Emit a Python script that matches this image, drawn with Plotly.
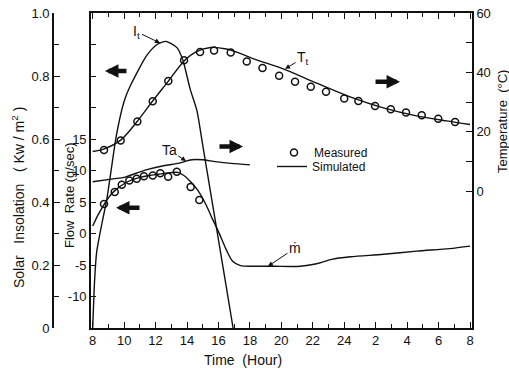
import plotly.graph_objects as go

# ---------------- data ----------------
# Solar insolation I_t (kW/m^2) vs time (hour)
it_time = [8.0, 8.12, 8.25, 8.5, 8.9, 9.2, 9.5, 10.0, 10.4, 11.45, 12.1, 12.66, 13.36, 13.74, 14.19, 14.63, 15.0, 15.5, 16.0, 16.5, 16.93]
it_val = [0.0, 0.15, 0.24, 0.31, 0.41, 0.51, 0.61, 0.72, 0.77, 0.866, 0.90, 0.91, 0.89, 0.85, 0.76, 0.69, 0.58, 0.43, 0.28, 0.13, 0.0]

# Tank temperature T_t (deg C), simulated
tt_sim_time = [8.0, 8.7, 9.8, 10.8, 11.8, 12.8, 13.8, 14.6, 15.5, 16.5, 17.3, 18.0, 19.0, 20.12, 22.25, 24.37, 26.49, 28.6, 30.5, 32.0]
tt_sim_val = [13.4, 14.2, 17.3, 23.3, 30.3, 37.0, 43.8, 47.0, 48.4, 47.9, 46.6, 45.1, 43.2, 41.2, 36.4, 31.8, 28.1, 25.4, 23.7, 22.5]

# Tank temperature T_t (deg C), measured
tt_meas_time = [8.72, 9.78, 10.84, 11.82, 12.81, 13.81, 14.83, 15.72, 16.78, 17.80, 18.80, 19.86, 20.87, 21.87, 22.84, 24.0, 24.9, 25.96, 26.96, 27.93, 28.93, 29.98, 31.05]
tt_meas_val = [13.9, 17.1, 23.5, 30.3, 37.1, 44.1, 46.9, 47.4, 46.7, 43.7, 41.5, 38.9, 36.9, 35.2, 33.5, 31.2, 30.4, 28.7, 27.6, 26.5, 25.6, 24.4, 23.3]

# Ambient temperature Ta (deg C), simulated
ta_time = [8.0, 9.3, 10.0, 10.4, 11.4, 12.5, 13.5, 14.3, 15.0, 15.8, 16.8, 18.0]
ta_val = [3.2, 4.2, 4.7, 5.4, 7.2, 8.6, 9.5, 10.6, 10.6, 10.0, 9.4, 8.9]

# Flow rate m-dot (g/sec), simulated
m_sim_time = [8.0, 8.35, 8.72, 9.1, 9.5, 10.0, 10.5, 11.0, 11.6, 12.2, 12.8, 13.4, 13.8, 14.2, 14.7, 15.2, 15.6, 16.0, 16.5, 16.9, 17.4, 18.2, 19.5, 21.2, 22.25, 23.2, 24.4, 26.5, 28.6, 30.7, 32.0]
m_sim_val = [1.2, 3.0, 4.6, 6.0, 7.0, 7.9, 8.5, 8.9, 9.2, 9.4, 9.6, 9.7, 9.2, 8.3, 6.8, 4.6, 2.4, 0.3, -2.6, -4.4, -5.1, -5.2, -5.2, -5.2, -4.8, -4.1, -3.7, -3.3, -2.8, -2.4, -2.0]

# Flow rate m-dot (g/sec), measured
m_meas_time = [8.72, 9.4, 9.85, 10.33, 10.8, 11.26, 11.82, 12.3, 12.8, 13.35, 14.23, 14.78]
m_meas_val = [4.7, 6.6, 7.75, 8.4, 8.7, 9.1, 9.2, 9.55, 9.0, 9.8, 7.4, 5.3]

# tick labels
x_tickvals = list(range(8, 33, 2))
x_ticktext = ["8", "10", "12", "14", "16", "18", "20", "22", "24", "2", "4", "6", "8"]
x_minorvals = list(range(9, 32, 2))
flow_tickvals = [-15, -10, -5, 0, 5, 10, 15, 20, 25, 30, 35]
flow_ticktext = ["", "-10", "-5", "0", "5", "10", "15", "", "", "", ""]
temp_tickvals = [0, 10, 20, 30, 40, 50, 60]
temp_ticktext = ["0", "", "20", "", "40", "", "60"]
sol_tickvals = [0, 0.2, 0.4, 0.6, 0.8, 1.0]
sol_ticktext = ["0", "0.2", "0.4", "0.6", "0.8", "1.0"]
sol_minorvals = [0.1, 0.3, 0.5, 0.7, 0.9]

# ---------------- figure ----------------
FONT = "Liberation Sans"
BLACK = "#111111"
LW = 1.4

fig = go.Figure()

fig.add_trace(go.Scatter(x=it_time, y=it_val, yaxis="y3", mode="lines",
                         line=dict(color=BLACK, width=LW, shape="spline", smoothing=0.6),
                         showlegend=False, hoverinfo="skip"))
fig.add_trace(go.Scatter(x=tt_meas_time, y=tt_meas_val, yaxis="y2", mode="markers", name="Measured",
                         marker=dict(symbol="circle-open", size=7, color=BLACK, line=dict(width=1.5, color=BLACK)),
                         showlegend=True, legend="legend"))
fig.add_trace(go.Scatter(x=tt_sim_time, y=tt_sim_val, yaxis="y2", mode="lines", name="Simulated",
                         line=dict(color=BLACK, width=LW, shape="spline", smoothing=0.8),
                         showlegend=True, legend="legend2"))
fig.add_trace(go.Scatter(x=ta_time, y=ta_val, yaxis="y2", mode="lines",
                         line=dict(color=BLACK, width=LW, shape="spline", smoothing=0.8),
                         showlegend=False))
fig.add_trace(go.Scatter(x=m_sim_time, y=m_sim_val, yaxis="y", mode="lines",
                         line=dict(color=BLACK, width=LW, shape="spline", smoothing=0.8),
                         showlegend=False))
fig.add_trace(go.Scatter(x=m_meas_time, y=m_meas_val, yaxis="y", mode="markers",
                         marker=dict(symbol="circle-open", size=7, color=BLACK, line=dict(width=1.5, color=BLACK)),
                         showlegend=False))

L, R, T, B = 40, 37, 13, 40
W, H = 509, 368
pw = W - L - R
ph = H - T - B
x0_dom = (91 - L) / pw
sol_pos = (53 - L) / pw


def px(xp):
    return (xp - L) / pw


def py(yp):
    return 1 - (yp - T) / ph


axis_common = dict(showgrid=False, zeroline=False, showline=True, linecolor=BLACK, linewidth=1.6,
                   ticks="inside", tickcolor=BLACK, tickwidth=1.3, automargin=False,
                   tickfont=dict(family=FONT, size=13, color=BLACK))

leg_common = dict(xanchor="left", yanchor="top", bgcolor="rgba(0,0,0,0)",
                  font=dict(family=FONT, size=12, color=BLACK), itemwidth=30, tracegroupgap=0)

fig.update_layout(
    width=W, height=H,
    margin=dict(l=L, r=R, t=T, b=B, pad=0),
    paper_bgcolor="white", plot_bgcolor="white",
    font=dict(family=FONT, size=13, color=BLACK),
    xaxis=dict(domain=[x0_dom, 1], range=[7.892, 32.127], tickmode="array",
               tickvals=x_tickvals, ticktext=x_ticktext, ticklen=6, mirror="ticks",
               minor=dict(tickmode="array", tickvals=x_minorvals, ticks="inside", ticklen=4,
                          tickcolor=BLACK, tickwidth=1.2),
               **axis_common),
    yaxis=dict(range=[-15, 35], tickmode="array", tickvals=flow_tickvals, ticktext=flow_ticktext,
               ticklen=5, anchor="x", side="left", **axis_common),
    yaxis2=dict(range=[-46, 60], tickmode="array", tickvals=temp_tickvals, ticktext=temp_ticktext,
                ticklen=6, overlaying="y", anchor="x", side="right", **axis_common),
    yaxis3=dict(range=[0, 1.0], tickmode="array", tickvals=sol_tickvals, ticktext=sol_ticktext,
                ticklen=6, overlaying="y", anchor="free", position=sol_pos, side="left",
                minor=dict(tickmode="array", tickvals=sol_minorvals, ticks="inside", ticklen=5,
                           tickcolor=BLACK, tickwidth=1.2),
                **axis_common),
    legend=dict(x=px(274), y=py(138), **leg_common),
    legend2=dict(x=px(272), y=py(152), **leg_common),
    showlegend=True,
)

annotations = []
ttl = dict(xref="paper", yref="paper", showarrow=False, xanchor="center", yanchor="middle")
# axis titles
annotations.append(dict(text="Solar   Insolation   ( Kw / m<sup>2</sup> )", x=px(18), y=py(198),
                        textangle=-90, font=dict(family=FONT, size=14, color=BLACK), **ttl))
annotations.append(dict(text="Flow  Rate (g/sec)", x=px(69), y=py(196),
                        textangle=-90, font=dict(family=FONT, size=13, color=BLACK), **ttl))
annotations.append(dict(text="Temperature  (°C)", x=px(502), y=py(122),
                        textangle=-90, font=dict(family=FONT, size=13, color=BLACK), **ttl))
annotations.append(dict(text="Time  (Hour)", x=px(243), y=py(360),
                        font=dict(family=FONT, size=14, color=BLACK), **ttl))

# curve labels with pointer arrows
lab = dict(showarrow=True, arrowhead=2, arrowsize=1, arrowwidth=1, arrowcolor=BLACK,
           font=dict(family=FONT, size=14, color=BLACK), standoff=0)
annotations.append(dict(text="I<sub>t</sub>", x=12.28, y=0.905, xref="x", yref="y3", ax=-23, ay=-11, **lab))
annotations.append(dict(text="T<sub>t</sub>", x=20.24, y=41.2, xref="x", yref="y2", ax=18, ay=-11, **lab))
annotations.append(dict(text="Ta", x=13.94, y=10.2, xref="x", yref="y2", ax=-17, ay=-11, **lab))
annotations.append(dict(text="ṁ", x=19.15, y=-5.2, xref="x", yref="y", ax=27, ay=-18, **lab))

# block arrows showing which axis each curve belongs to
blk = dict(text="", showarrow=True, arrowhead=2, arrowsize=0.6, arrowwidth=4.5, arrowcolor=BLACK,
           xref="x", yref="y", ay=0)
annotations.append(dict(x=8.78, y=25.8, ax=23, **blk))
annotations.append(dict(x=27.55, y=24.1, ax=-26, **blk))
annotations.append(dict(x=17.56, y=13.8, ax=-25, **blk))
annotations.append(dict(x=9.48, y=4.1, ax=25, **blk))

fig.update_layout(annotations=annotations)

fig.write_html("out.html", config={"displayModeBar": False},
               post_script="document.body.style.margin='0px';")
